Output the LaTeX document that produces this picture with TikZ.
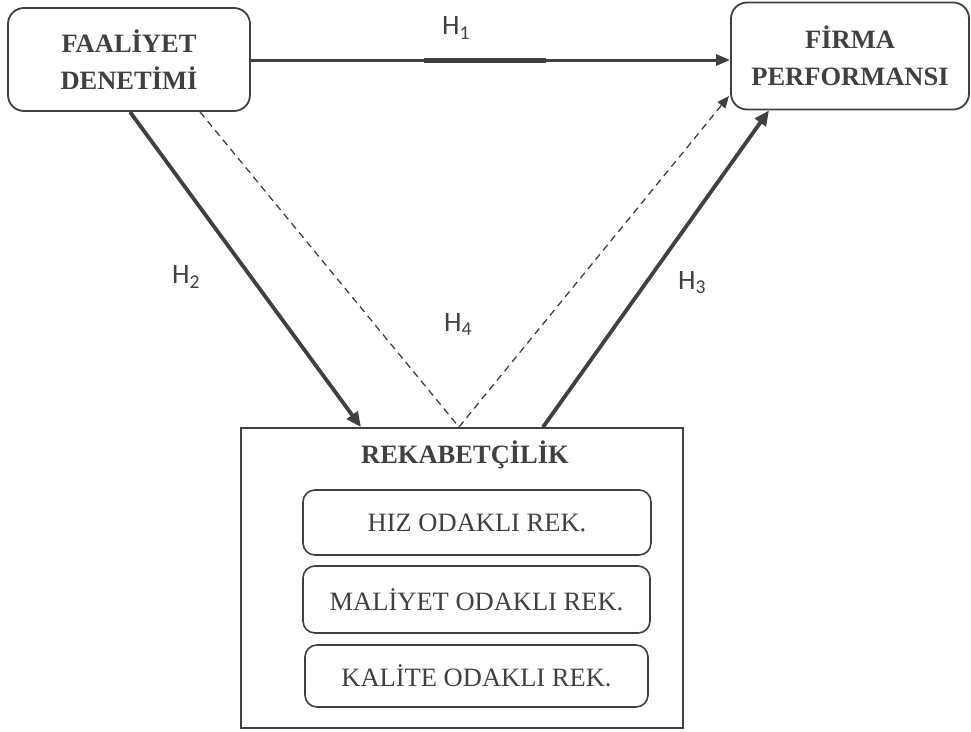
\documentclass[tikz,border=0pt]{standalone}
\usepackage{fontspec}
\setmainfont{Liberation Serif}
\newfontfamily\hfont{Carlito}
\usetikzlibrary{arrows.meta,calc}
\definecolor{ink}{HTML}{404040}
\tikzset{
  mainbox/.style={draw=ink, line width=1.8pt, rounded corners=16pt, align=center,
    text=ink, font=\fontsize{26.5}{37}\selectfont\bfseries, inner sep=0pt},
  subbox/.style={draw=ink, line width=1.6pt, rounded corners=12pt, align=center,
    text=ink, font=\fontsize{26.5}{30}\selectfont, inner sep=0pt},
  outerbox/.style={draw=ink, line width=1.8pt, inner sep=0pt},
  hlabel/.style={text=ink, font=\hfont\fontsize{28}{32}\selectfont, inner sep=0pt},
  solidarrow/.style={draw=ink, line width=3.8pt, -{Triangle[length=15pt,width=13pt]}},
  dasharrow/.style={draw=ink, line width=1.3pt, dash pattern=on 7pt off 5pt,
    -{Triangle[length=12pt,width=10pt]}},
}
\begin{document}
\begin{tikzpicture}[x=1pt,y=-1pt]
\useasboundingbox (0,0) rectangle (971,731);
% boxes
\node[mainbox, minimum width=242pt, minimum height=103pt] (fd) at (129,59.5)
  {FAAL\.IYET\\DENET\.IM\.I};
\node[mainbox, minimum width=238pt, minimum height=107pt] (fp) at (850,56)
  {F\.IRMA\\PERFORMANSI};
\node[outerbox, minimum width=442pt, minimum height=300pt] (rk) at (462,578) {};
\node[text=ink, font=\fontsize{26.5}{30}\selectfont\bfseries, inner sep=0pt] (rkt) at (465,455)
  {REKABETÇ\.IL\.IK};
\node[subbox, minimum width=348pt, minimum height=65pt] (hiz) at (477,522.5) {HIZ ODAKLI REK.};
\node[subbox, minimum width=347pt, minimum height=67pt] (mal) at (476.5,599.5) {MAL\.IYET ODAKLI REK.};
\node[subbox, minimum width=343pt, minimum height=62pt] (kal) at (476.5,676) {KAL\.ITE ODAKLI REK.};
% H1
\draw[draw=ink, line width=3pt, -{Triangle[length=14pt,width=11pt]}] (fd.east |- 0,60) -- (fp.west |- 0,60);
\draw[draw=ink, line width=5pt] ($(fd.east |- 0,60)!0.362!(fp.west |- 0,60)$) -- ($(fd.east |- 0,60)!0.615!(fp.west |- 0,60)$);
% H2 and H3
\draw[solidarrow] (fd.south -| 130,0) -- (rk.north -| 361,0);
\draw[solidarrow] (rk.north -| 543,0) -- (fp.south -| 769,0);
% H4 dashed
\coordinate (apex) at (459,427);
\draw[draw=ink, line width=1.3pt, dash pattern=on 7pt off 5pt] (fd.south -| 200,0) -- (apex);
\draw[dasharrow] (apex) -- (729,96);
% labels
\node[hlabel] (h1) at (456,28) {H\textsubscript{1}};
\node[hlabel] (h2) at (186,277) {H\textsubscript{2}};
\node[hlabel] (h3) at (692,283) {H\textsubscript{3}};
\node[hlabel] (h4) at (458,325) {H\textsubscript{4}};
\end{tikzpicture}
\end{document}
